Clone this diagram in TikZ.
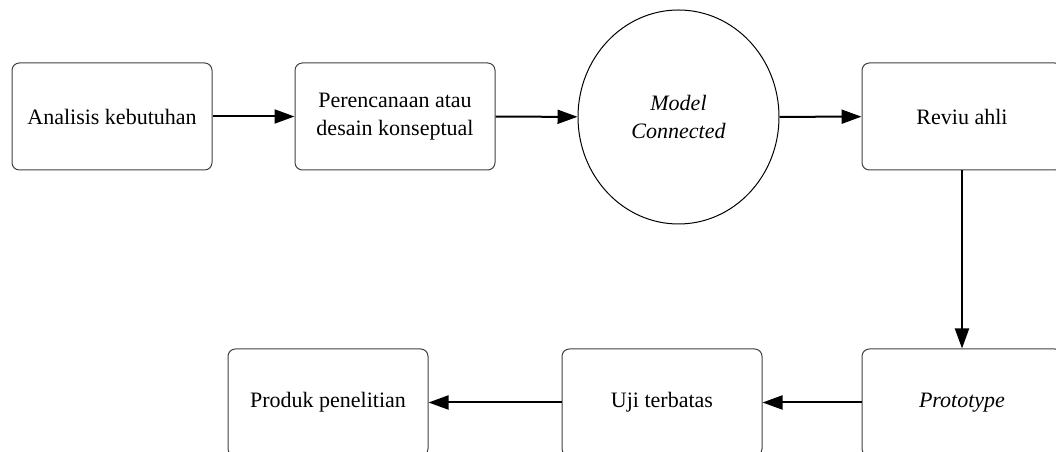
\documentclass[tikz,border=0pt]{standalone}
\usepackage{fontspec}
\setmainfont{Liberation Serif}
\usetikzlibrary{arrows.meta,shapes.geometric}

\begin{document}
\begin{tikzpicture}[x=0.75pt,y=0.75pt,
  stepbox/.style={draw=black!75, line width=0.75pt, rounded corners=5.5pt,
    minimum width=150pt, minimum height=80.25pt, align=center,
    font=\fontsize{16.5}{20.7}\selectfont},
  modelnode/.style={ellipse, draw=black, line width=0.75pt, inner sep=0pt,
    minimum width=150.75pt, minimum height=160.5pt, align=center,
    font=\fontsize{16.5}{20.7}\selectfont\itshape},
  flow/.style={line width=1.5pt, -{Triangle[length=15pt,width=10.5pt]}}]
\useasboundingbox (0,0) rectangle (1056,452);
\clip (0,0) rectangle (1056,452);
% top row
\node[stepbox] (ana) at (112,335.5) {Analisis kebutuhan};
\node[stepbox] (ren) at (395,335.5) {Perencanaan atau\\desain konseptual};
\node[modelnode] (mod) at (678.5,335) {Model\\Connected};
\node[stepbox] (rev) at (962,335.5) {Reviu ahli};
% bottom row
\node[stepbox] (pro) at (962,49.5) {\itshape Prototype};
\node[stepbox] (uji) at (662,49.5) {Uji terbatas};
\node[stepbox] (prd) at (328,49.5) {Produk penelitian};
% connectors
\draw[flow] (ana) -- (ren);
\draw[flow] (ren) -- (mod);
\draw[flow] (mod) -- (rev);
\draw[flow] (rev) -- (pro);
\draw[flow] (pro) -- (uji);
\draw[flow] (uji) -- (prd);
\end{tikzpicture}
\end{document}
